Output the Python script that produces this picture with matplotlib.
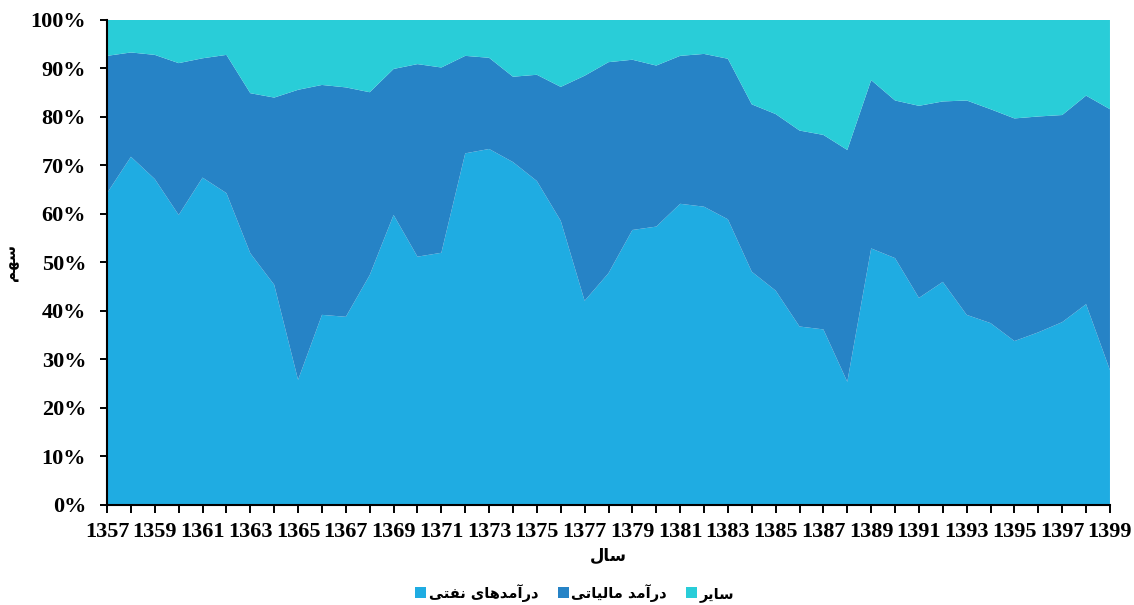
import matplotlib
matplotlib.use('Agg')
import matplotlib.pyplot as plt
from matplotlib.ticker import FuncFormatter

# years 1357..1399 (solar hijri)
years = list(range(1357, 1400))

# share of oil revenue (%)
oil = [64.3, 71.8, 67.2, 59.8, 67.5, 64.3, 51.9, 45.4, 25.8, 39.2,
       38.8, 47.4, 59.8, 51.2, 52.0, 72.5, 73.4, 70.7, 66.8, 58.6,
       42.1, 47.8, 56.7, 57.4, 62.1, 61.5, 58.9, 48.1, 44.2, 36.8,
       36.2, 25.4, 52.9, 50.9, 42.7, 46.0, 39.2, 37.5, 33.8, 35.6,
       37.7, 41.4, 27.8]

# share of tax revenue (%)
tax = [28.3, 21.5, 25.6, 31.3, 24.6, 28.5, 33.0, 38.6, 59.8, 47.4,
       47.3, 37.7, 30.1, 39.7, 38.2, 20.1, 18.8, 17.6, 21.9, 27.6,
       46.4, 43.5, 35.1, 33.2, 30.5, 31.5, 33.1, 34.5, 36.4, 40.4,
       40.1, 47.8, 34.7, 32.5, 39.6, 37.2, 44.2, 44.1, 45.9, 44.5,
       42.7, 43.0, 53.8]

# everything else (%)
other = [round(100 - a - b, 1) for a, b in zip(oil, tax)]

# persian labels, written in shaped presentation forms (visual order)
lbl_oil = '\uFEF0\uFE98\uFED4\uFEE7 \uFEEF\uFE8E\uFEEB\uFEAA\uFEE3\uFE81\uFEAD\uFEA9'  # درآمدهای نفتی
lbl_tax = '\uFEF0\uFE97\uFE8E\uFEF4\uFEDF\uFE8E\uFEE3 \uFEAA\uFEE3\uFE81\uFEAD\uFEA9'  # درآمد مالیاتی
lbl_other = '\uFEAE\uFEF3\uFE8E\uFEB3'  # سایر
x_title = '\uFEDD\uFE8E\uFEB3'  # سال
y_title = '\uFEE2\uFEEC\uFEB3'  # سهم

colors = ['#1FACE2', '#2683C6', '#29CDD8']

fig = plt.figure(figsize=(11.34, 6.05), dpi=100)
ax = fig.add_axes([0.0944, 0.1653, 0.8844, 0.8017])

ax.stackplot(years, oil, tax, other, colors=colors,
             labels=[lbl_oil, lbl_tax, lbl_other], linewidth=0)

ax.set_xlim(years[0], years[-1])
ax.set_ylim(0, 100)

ax.set_xticks(years)
ax.set_xticklabels([str(y) if (y - 1357) % 2 == 0 else '' for y in years])
ax.set_yticks(range(0, 101, 10))
ax.yaxis.set_major_formatter(FuncFormatter(lambda v, p: '%d%%' % v))

for lab in ax.get_xticklabels() + ax.get_yticklabels():
    lab.set_family('Liberation Serif')
    lab.set_fontweight('bold')
    lab.set_fontsize(16)

ax.tick_params(axis='x', direction='out', length=6, width=1.4, pad=6, colors='black')
ax.tick_params(axis='y', direction='out', length=5, width=1.4, pad=10, colors='black')

for s in ['top', 'right']:
    ax.spines[s].set_visible(False)
for s in ['left', 'bottom']:
    ax.spines[s].set_linewidth(1.5)
    ax.spines[s].set_color('black')

ax.set_xlabel(x_title, fontsize=12, fontweight='bold', family='DejaVu Sans', labelpad=4)
ax.set_ylabel(y_title, fontsize=11, fontweight='bold', family='DejaVu Sans', labelpad=8)

leg = fig.legend(loc='center', bbox_to_anchor=(0.507, 0.02), ncol=3, frameon=False,
                 markerfirst=True, handlelength=0.75, handleheight=0.75,
                 handletextpad=0.2, columnspacing=1.3,
                 prop={'family': 'DejaVu Sans', 'weight': 'bold', 'size': 10.5})

fig.savefig('out.png', dpi=100)
